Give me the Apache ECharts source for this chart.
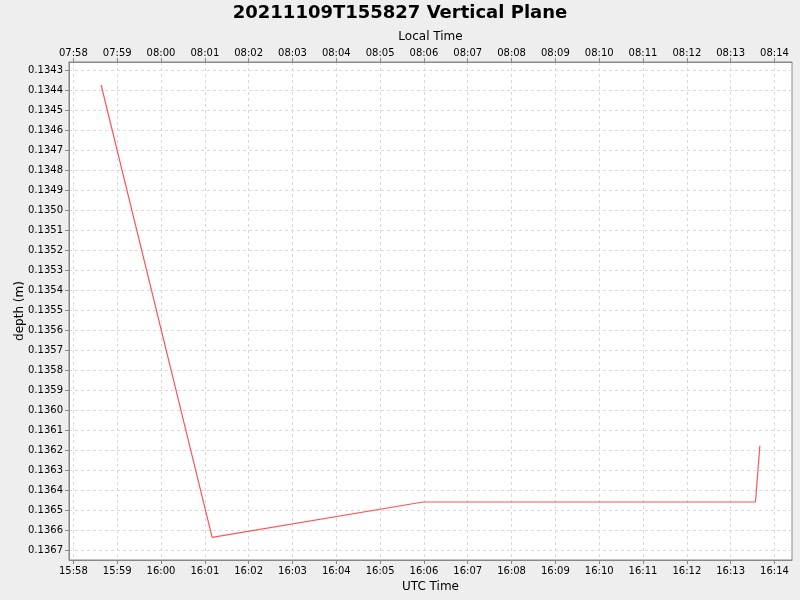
<!DOCTYPE html>
<html>
<head>
<meta charset="utf-8">
<script src="https://cdn.jsdelivr.net/npm/echarts@6/dist/echarts.min.js"></script>
<style>
html,body{margin:0;padding:0;background:#eeeeee;}
#c{width:800px;height:600px;}
</style>
</head>
<body>
<div id="c"></div>
<script>
// UTC times (2021-11-09) of the vertex points, as "HH:MM:SS"
var times = ['15:58:38', '16:01:10', '16:05:59', '16:13:34', '16:13:40'];
// depth in metres at those times
var depths = [0.134375, 0.136637, 0.136460, 0.136460, 0.136179];
// tick labels
var utcTickLabels = ['15:58','15:59','16:00','16:01','16:02','16:03','16:04','16:05','16:06','16:07','16:08','16:09','16:10','16:11','16:12','16:13','16:14'];
var depthTickLabels = ['0.1343','0.1344','0.1345','0.1346','0.1347','0.1348','0.1349','0.1350','0.1351','0.1352','0.1353','0.1354','0.1355','0.1356','0.1357','0.1358','0.1359','0.1360','0.1361','0.1362','0.1363','0.1364','0.1365','0.1366','0.1367'];
var localOffsetHours = -8;

function toMs(hms) {
  var p = hms.split(':').map(Number);
  return Date.UTC(2021, 10, 9, p[0], p[1], p[2] || 0);
}
function fmt(v) {
  var d = new Date(Math.round(v));
  var h = d.getUTCHours(), m = d.getUTCMinutes();
  return (h < 10 ? '0' : '') + h + ':' + (m < 10 ? '0' : '') + m;
}
var offMs = localOffsetHours * 3600000;
var xMin = toMs('15:57:54'), xMax = toMs('16:14:24');
var utcTicks = utcTickLabels.map(function (s) { return toMs(s); });
var localTicks = utcTicks.map(function (v) { return v + offMs; });
var yTicks = depthTickLabels.map(Number);
var seriesData = times.map(function (t, i) { return [toMs(t), depths[i]]; });

var font = 'DejaVu Sans';
var axisGray = '#888888';
var gridColor = '#d9d9d9';

var chart = echarts.init(document.getElementById('c'));
chart.setOption({
  backgroundColor: '#eeeeee',
  animation: false,
  title: {
    text: '20211109T155827 Vertical Plane',
    left: 'center',
    top: -1,
    textStyle: { fontFamily: font, fontSize: 18, fontWeight: 'bold', color: '#000' }
  },
  grid: {
    left: 69, right: 8, top: 62, bottom: 40,
    outerBoundsMode: 'none', containLabel: false,
    show: true, backgroundColor: '#ffffff', borderColor: axisGray, borderWidth: 1
  },
  xAxis: [
    {
      type: 'value', position: 'bottom', min: xMin, max: xMax, scale: true,
      name: 'UTC Time', nameLocation: 'middle', nameGap: 21, nameMoveOverlap: false,
      nameTextStyle: { fontFamily: font, fontSize: 12, color: '#000' },
      axisLine: { show: true, lineStyle: { color: axisGray } },
      axisTick: { show: true, length: 4, lineStyle: { color: axisGray }, customValues: utcTicks },
      axisLabel: { customValues: utcTicks, formatter: fmt, fontFamily: font, fontSize: 10, color: '#000', margin: 6 },
      splitLine: { show: true, lineStyle: { color: gridColor, type: [3, 3] } }
    },
    {
      type: 'value', position: 'top', min: xMin + offMs, max: xMax + offMs, scale: true,
      name: 'Local Time', nameLocation: 'middle', nameGap: 19, nameMoveOverlap: false,
      nameTextStyle: { fontFamily: font, fontSize: 12, color: '#000' },
      axisLine: { show: true, lineStyle: { color: axisGray } },
      axisTick: { show: true, length: 4, lineStyle: { color: axisGray }, customValues: localTicks },
      axisLabel: { customValues: localTicks, formatter: fmt, fontFamily: font, fontSize: 10, color: '#000', margin: 4 },
      splitLine: { show: false }
    }
  ],
  yAxis: {
    type: 'value', inverse: true, min: 0.13426, max: 0.13675, scale: true,
    name: 'depth (m)', nameLocation: 'middle', nameGap: 43, nameMoveOverlap: false,
    nameTextStyle: { fontFamily: font, fontSize: 12, color: '#000' },
    axisLine: { show: true, lineStyle: { color: axisGray } },
    axisTick: { show: true, length: 4, lineStyle: { color: axisGray }, customValues: yTicks },
    axisLabel: { customValues: yTicks, formatter: function (v) { return v.toFixed(4); }, fontFamily: font, fontSize: 10, color: '#000', margin: 6 },
    splitLine: { show: true, lineStyle: { color: gridColor, type: [3, 3] } }
  },
  series: [{
    type: 'line', xAxisIndex: 0, yAxisIndex: 0,
    data: seriesData, showSymbol: false, symbol: 'none',
    lineStyle: { color: '#ff5555', width: 1.2 }
  }]
});
</script>
</body>
</html>
